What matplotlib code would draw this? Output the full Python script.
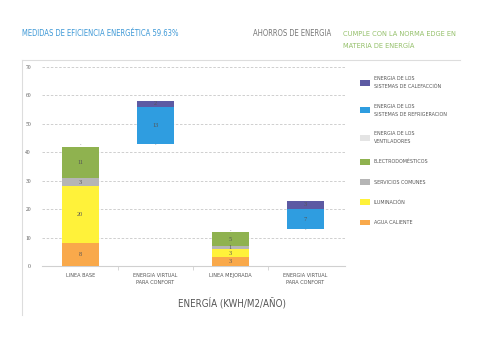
import numpy as np
import matplotlib
matplotlib.use('Agg')
import matplotlib.pyplot as plt
from matplotlib.patches import Patch
from matplotlib import font_manager

# chart data
categories = ['LINEA BASE', 'ENERGIA VIRTUAL\nPARA CONFORT', 'LINEA MEJORADA', 'ENERGIA VIRTUAL\nPARA CONFORT']
base_offset = [0, 43, 0, 13]
agua_caliente = [8, 0, 3, 0]
iluminacion = [20, 0, 3, 0]
servicios_comunes = [3, 0, 1, 0]
electrodomesticos = [11, 0, 5, 0]
ventiladores = [0, 0, 0, 0]
refrigeracion = [0, 13, 0, 7]
calefaccion = [0, 2, 0, 3]

series_names = ['AGUA CALIENTE', 'ILUMINACIÓN', 'SERVICIOS COMUNES', 'ELECTRODOMÉSTICOS',
                'ENERGIA DE LOS\nVENTILADORES', 'ENERGIA DE LOS\nSISTEMAS DE REFRIGERACION',
                'ENERGIA DE LOS\nSISTEMAS DE CALEFACCIÓN']
series_values = [agua_caliente, iluminacion, servicios_comunes, electrodomesticos,
                 ventiladores, refrigeracion, calefaccion]
series_colors = ['#f9a94b', '#fff23a', '#b5b5b5', '#8fb24f', '#e4e4e4', '#2f9de0', '#5d5aa3']

# pick a regular-weight condensed face if one is installed
cond = [f for f in font_manager.fontManager.ttflist
        if ('ondensed' in f.fname or 'arrow' in f.fname)
        and 'Bold' not in f.fname and 'Italic' not in f.fname and 'Semi' not in f.fname
        and 'Light' not in f.fname and 'Medium' not in f.fname and 'Black' not in f.fname
        and 'Thin' not in f.fname and 'Extra' not in f.fname and 'Oblique' not in f.fname]
cond.sort(key=lambda f: (f.weight != 400 and f.weight != 'normal', f.fname))
narrow_file = cond[0].fname if cond else None


def nprop(size):
    if narrow_file:
        return font_manager.FontProperties(fname=narrow_file, size=size)
    return font_manager.FontProperties(family='DejaVu Sans', size=size)


serif = ['Liberation Serif', 'DejaVu Serif']

fig = plt.figure(figsize=(4.8, 3.39), dpi=100)
ax = fig.add_axes([0.0875, 0.2153, 0.6313, 0.587])

x = np.arange(len(categories))
bottom = np.array(base_offset, dtype=float)
for name, vals, col in zip(series_names, series_values, series_colors):
    vals = np.array(vals, dtype=float)
    ax.bar(x, vals, 0.5, bottom=bottom, color=col, zorder=3)
    for i, v in enumerate(vals):
        is_base = base_offset[i] == 0
        if v > 0:
            ax.text(x[i], bottom[i] + v / 2, f'{int(v)}', ha='center', va='center',
                    fontsize=4.5, family=serif, color='#555555', zorder=4)
        elif name.endswith('VENTILADORES'):
            ax.text(x[i], bottom[i] + (0.3 if is_base else -0.6), '-', ha='center', va='center',
                    fontsize=3, family=serif, color='#555555', zorder=4)
    bottom += vals

ax.set_xlim(-0.51, 3.53)
ax.set_ylim(0, 70)
ax.set_yticks(range(0, 71, 10))
ax.yaxis.grid(True, linestyle=(0, (3, 2)), color='#c8c8c8', linewidth=0.6, zorder=0)
for s in ['top', 'right', 'left']:
    ax.spines[s].set_visible(False)
ax.spines['bottom'].set_color('#d0d0d0')
ax.spines['bottom'].set_linewidth(0.8)
ax.tick_params(axis='y', length=0, labelsize=4, labelcolor='#555555', pad=8)
for lbl in ax.get_yticklabels():
    lbl.set_family(serif)
ax.set_xticks(x)
ax.set_xticklabels(categories, fontproperties=nprop(4), color='#555555', linespacing=1.5)
ax.set_xticks(x[:-1] + 0.5, minor=True)
ax.tick_params(axis='x', which='major', length=0, pad=5)
ax.tick_params(axis='x', which='minor', length=3, color='#d0d0d0', width=0.6)
fig.text(0.483, 0.108, 'ENERGÍA (KWH/M2/AÑO)', fontproperties=nprop(7.0), color='#555555',
         ha='center', va='center')

handles = [Patch(facecolor=c, edgecolor='none') for c in series_colors][::-1]
leg = fig.legend(handles, series_names[::-1], loc='upper left', bbox_to_anchor=(0.745, 0.782),
                 frameon=False, prop=nprop(3.9), labelspacing=2.65,
                 handlelength=1.9, handleheight=1.3, handletextpad=0.7, borderaxespad=0)
for t in leg.get_texts():
    t.set_color('#555555')
    t.set_linespacing(1.8)

# frame lines around plot region
fig.add_artist(plt.Line2D([0.046, 0.958], [0.823, 0.823], color='#dddddd', linewidth=0.8))
fig.add_artist(plt.Line2D([0.046, 0.046], [0.07, 0.823], color='#dddddd', linewidth=0.8))

fig.text(0.046, 0.9, 'MEDIDAS DE EFICIENCIA ENERGÉTICA 59.63%', fontproperties=nprop(5.5),
         color='#3d98d6', va='center')
fig.text(0.527, 0.9, 'AHORROS DE ENERGIA', fontproperties=nprop(5.5),
         color='#777777', va='center')
fig.text(0.715, 0.9, 'CUMPLE CON LA NORMA EDGE EN', fontproperties=nprop(5.3),
         color='#94c06a', va='center')
fig.text(0.715, 0.865, 'MATERIA DE ENERGÍA', fontproperties=nprop(5.3),
         color='#94c06a', va='center')

fig.savefig('out.png', dpi=100, facecolor='white')
